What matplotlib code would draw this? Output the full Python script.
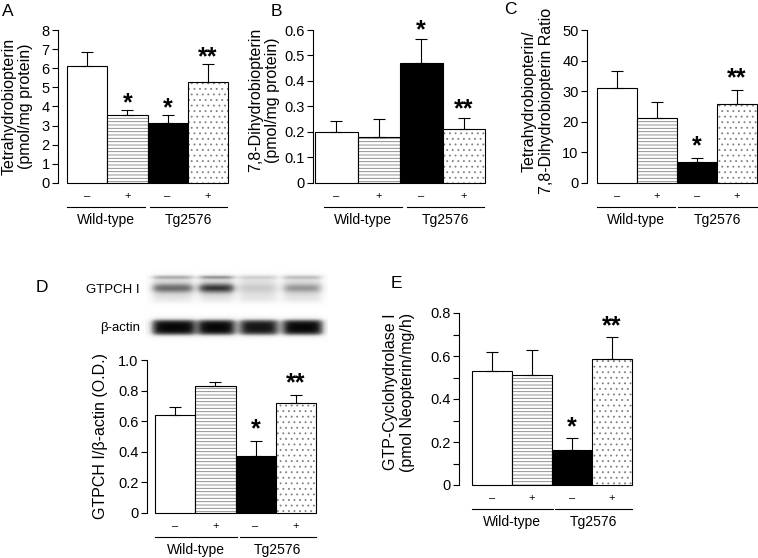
import numpy as np
import matplotlib
matplotlib.use('Agg')
import matplotlib.pyplot as plt
import matplotlib.transforms as mtransforms

plt.rcParams['font.family'] = ['Liberation Sans', 'DejaVu Sans']
plt.rcParams['hatch.linewidth'] = 0.6

W, H = 758, 558

# data
groups = ['Wild-type', 'Tg2576']
treat_labels = ['\u2013', '+', '\u2013', '+']

bh4 = [6.1, 3.55, 3.15, 5.3]
bh4_err = [0.75, 0.25, 0.4, 0.9]
bh2 = [0.2, 0.18, 0.47, 0.21]
bh2_err = [0.045, 0.07, 0.095, 0.045]
ratio = [31.0, 21.2, 7.0, 25.8]
ratio_err = [5.5, 5.2, 1.2, 4.5]
gtpch_od = [0.64, 0.83, 0.375, 0.72]
gtpch_od_err = [0.05, 0.025, 0.095, 0.05]
gtpch_act = [0.53, 0.51, 0.165, 0.585]
gtpch_act_err = [0.09, 0.12, 0.055, 0.105]

stars_a = ['', '*', '*', '**']
stars_bcde = ['', '', '*', '**']

ticks_a = [0, 1, 2, 3, 4, 5, 6, 7, 8]
ticklabels_a = ['0', '1', '2', '3', '4', '5', '6', '7', '8']
ticks_b = [0, 0.1, 0.2, 0.3, 0.4, 0.5, 0.6]
ticklabels_b = ['0', '0.1', '0.2', '0.3', '0.4', '0.5', '0.6']
ticks_c = [0, 10, 20, 30, 40, 50]
ticklabels_c = ['0', '10', '20', '30', '40', '50']
ticks_d = [0, 0.2, 0.4, 0.6, 0.8, 1.0]
ticklabels_d = ['0', '0.2', '0.4', '0.6', '0.8', '1.0']
ticks_e = [0, 0.2, 0.4, 0.6, 0.8]
ticklabels_e = ['0', '0.2', '0.4', '0.6', '0.8']
minor_e = [0.1, 0.3, 0.5, 0.7]

# western blot band strength per lane (0..1)
blot_gtpch = [0.6, 0.85, 0.15, 0.4]
blot_actin = [1.0, 1.0, 0.95, 1.0]

# bar looks: white, horizontal lines, black, dots
styles = [
    dict(fill='white', hatch=None),
    dict(fill='white', hatch='-----'),
    dict(fill='black', hatch=None),
    dict(fill='white', hatch='...'),
]

fig = plt.figure(figsize=(W / 100, H / 100), dpi=100)


def px_text(x, y, s, **kw):
    fig.text(x / W, 1 - y / H, s, **kw)


def below(ax, dy):
    return mtransforms.offset_copy(ax.get_xaxis_transform(), fig=fig, x=0, y=-dy, units='dots')


def bar_panel(box, values, errs, ylim, yticks, yticklabels, stars, lines, star_off, minor=None):
    spine, bl, br, top, bottom = box
    unit = (br - bl) / 4
    ax = fig.add_axes([spine / W, 1 - bottom / H, (br - spine) / W, (bottom - top) / H])
    x = np.arange(4)
    for i in range(4):
        st = styles[i]
        if st['hatch']:
            ax.bar(x[i], values[i], width=1, color='white', edgecolor='#808080',
                   hatch=st['hatch'], linewidth=0, clip_on=False)
            ax.bar(x[i], values[i], width=1, facecolor='none', edgecolor='black',
                   linewidth=0.8, clip_on=False)
        else:
            ax.bar(x[i], values[i], width=1, facecolor=st['fill'], edgecolor='black',
                   linewidth=0.8, clip_on=False)
    ax.errorbar(x, values, yerr=[np.zeros(4), errs], fmt='none', ecolor='black',
                elinewidth=0.8, capsize=4, capthick=0.8, clip_on=False, zorder=5)
    ax.set_xlim(-0.5 - (bl - spine) / unit, 3.5)
    ax.set_ylim(*ylim)
    for s in ['top', 'right', 'bottom']:
        ax.spines[s].set_visible(False)
    ax.spines['left'].set_linewidth(0.8)
    ax.set_yticks(yticks, yticklabels)
    if minor:
        ax.set_yticks(minor, minor=True)
        ax.tick_params(axis='y', which='minor', length=4, width=0.8)
    ax.tick_params(axis='y', length=4, width=0.8, pad=2, labelsize=10.5)
    ax.set_xticks(x, treat_labels)
    ax.tick_params(axis='x', length=0, pad=6, labelsize=8)
    for i, s in enumerate(stars):
        if s:
            ax.annotate(s, xy=(x[i], values[i] + errs[i]), xytext=(0, star_off),
                        textcoords='offset pixels', ha='center', va='baseline',
                        fontsize=18, fontweight='bold')
    for (a, b), name in zip(lines, groups):
        ax.plot([a, b], [0, 0], color='black', lw=0.8, transform=below(ax, 24), clip_on=False)
        ax.text((a + b) / 2, 0, name, transform=below(ax, 37), ha='center', va='center',
                fontsize=10)
    return ax


bar_panel((58, 67, 228, 30, 183), bh4, bh4_err, (0, 8), ticks_a, ticklabels_a,
          stars_a, [(-0.5, 1.43), (1.55, 3.48)], 0)
bar_panel((313, 315, 485, 30, 183), bh2, bh2_err, (0, 0.6), ticks_b, ticklabels_b,
          stars_bcde, [(-0.29, 1.55), (1.67, 3.48)], 2)
bar_panel((587, 597, 757, 30, 183), ratio, ratio_err, (0, 50), ticks_c, ticklabels_c,
          stars_bcde, [(-0.5, 1.45), (1.53, 3.5)], 5)
bar_panel((147, 155, 316, 360, 513), gtpch_od, gtpch_od_err, (0, 1), ticks_d, ticklabels_d,
          stars_bcde, [(-0.5, 1.54), (1.6, 3.5)], 5)
bar_panel((459, 472, 632, 313, 485), gtpch_act, gtpch_act_err, (0, 0.8), ticks_e, ticklabels_e,
          stars_bcde, [(-0.5, 1.52), (1.57, 3.5)], 3, minor=minor_e)

# y labels
lab = dict(rotation=90, ha='center', va='center', multialignment='center', fontsize=11.5,
           linespacing=1.15)
px_text(17.5, 106, 'Tetrahydrobiopterin\n(pmol/mg protein)', **lab)
px_text(264, 100, '7,8-Dihydrobiopterin\n(pmol/mg protein)', **lab)
px_text(538, 101, 'Tetrahydrobiopterin/\n7,8-Dihydrobiopterin Ratio', **lab)
px_text(100, 436, 'GTPCH I/\u03b2-actin (O.D.)', **lab)
px_text(399, 392, 'GTP-Cyclohydrolase I\n(pmol Neopterin/mg/h)', **lab)

# panel letters
for letter, (lx, ly) in zip('ABCDE', [(8, 12), (276, 11), (510, 10), (42, 287), (396, 284)]):
    px_text(lx, ly, letter, ha='center', va='center', fontsize=12.5)

# western blot
bx0, bx1, by0, by1 = 145, 328, 270, 342
blot_ax = fig.add_axes([bx0 / W, 1 - by1 / H, (bx1 - bx0) / W, (by1 - by0) / H])
xs = np.linspace(bx0, bx1, 366)
ys = np.linspace(by0, by1, 144)
XX, YY = np.meshgrid(xs, ys)
img = np.zeros_like(XX)


def tophat(v, c, hw, soft):
    return 1 / (1 + np.exp((np.abs(v - c) - hw) / soft))


gtpch_lanes = [(172.5, 20.5), (216.5, 17.5), (258, 19), (302.5, 19.5)]
for (c, hw), v in zip(gtpch_lanes, blot_gtpch):
    lane = tophat(XX, c, hw, 2.5)
    img += 0.2 * lane * tophat(YY, 288.5, 13.5, 1.5)
    img += 0.75 * v * lane * np.exp(-((YY - 288) / 5.0) ** 2)
    img += (0.1 + 0.3 * v) * lane * np.exp(-((YY - 277) / 2.0) ** 2)

actin_lanes = [(173.5, 21.5), (216.5, 18.5), (259, 19), (303, 20)]
for (c, hw), v in zip(actin_lanes, blot_actin):
    img += 0.98 * v * tophat(XX, c, hw, 2.5) * tophat(YY, 327.5, 7.5, 1.3)

blot_ax.imshow(np.clip(img, 0, 1), cmap='Greys', vmin=0, vmax=1, extent=[bx0, bx1, by1, by0],
               aspect='auto', interpolation='bilinear')
blot_ax.set_axis_off()

px_text(140, 290, 'GTPCH I', ha='right', va='center', fontsize=9.5)
px_text(140, 328, '\u03b2-actin', ha='right', va='center', fontsize=9.5)

fig.savefig('out.png', dpi=100)
